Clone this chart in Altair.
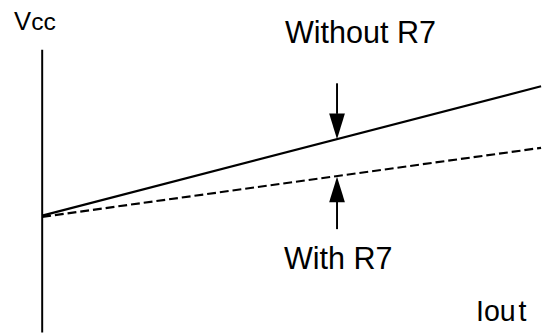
import altair as alt
import pandas as pd

# ---- data (current axis: arbitrary units, voltage axis: arbitrary units) ----
iout = [0.0, 10.0]
vcc_without_r7 = [4.75, 10.0]
vcc_with_r7 = [4.70, 7.50]

axis_bottom = 0.0
axis_top = 11.48

arrow_x = [5.91, 5.91]
stem_from = [10.12, 4.20]
stem_to = [8.88, 5.32]
arrow_tip = [7.85, 6.33]
arrow_dir = ["down", "up"]

label_text = ["Without R7", "With R7", "V", "cc", "I", "ou", "t"]
label_x = [4.865, 4.845, -0.567, -0.221, 8.697, 8.854, 9.546]
label_y = [11.76, 2.60, 12.28, 12.28, 0.48, 0.48, 0.48]
label_fs = [31, 31, 26, 25, 29, 29, 29]

# ---- scales ----
W, H = 546, 327
px_per_u = 50.63
px_per_v = 25.0
x0_px = 42.7 - 8
xs = alt.Scale(domain=[-x0_px / px_per_u, (W - x0_px) / px_per_u], nice=False, zero=False)
ys = alt.Scale(domain=[0, H / px_per_v], nice=False, zero=False)

lines = pd.DataFrame({
    "iout": iout * 2,
    "vcc": vcc_without_r7 + vcc_with_r7,
    "series": ["Without R7"] * 2 + ["With R7"] * 2,
})

axis_df = pd.DataFrame({"u": [0.0], "v1": [axis_bottom], "v2": [axis_top]})
stems = pd.DataFrame({"u": arrow_x, "v1": stem_from, "v2": stem_to})
down_path = "M0,0L-0.615,-2L0.615,-2Z"
up_path = "M0,0L-0.615,2L0.615,2Z"
heads = pd.DataFrame({
    "u": arrow_x,
    "v": arrow_tip,
    "shape": [down_path if d == "down" else up_path for d in arrow_dir],
})
labels = pd.DataFrame({"text": label_text, "u": label_x, "v": label_y, "fs": label_fs})

X = lambda f: alt.X(f, scale=xs, axis=None)
Y = lambda f: alt.Y(f, scale=ys, axis=None)

axis_rule = alt.Chart(axis_df).mark_rule(color="black", strokeWidth=2).encode(
    x=X("u:Q"), y=Y("v1:Q"), y2="v2:Q"
)

solid = alt.Chart(lines).transform_filter(alt.datum.series == "Without R7").mark_line(
    color="black", strokeWidth=2.2
).encode(x=X("iout:Q"), y=Y("vcc:Q"))

dashed = alt.Chart(lines).transform_filter(alt.datum.series == "With R7").mark_line(
    color="black", strokeWidth=2.2, strokeDash=[9, 4]
).encode(x=X("iout:Q"), y=Y("vcc:Q"))

stem_rules = alt.Chart(stems).mark_rule(color="black", strokeWidth=2).encode(
    x=X("u:Q"), y=Y("v1:Q"), y2="v2:Q"
)

head_marks = alt.Chart(heads).mark_point(
    filled=True, color="black", opacity=1, strokeWidth=0, size=676
).encode(x=X("u:Q"), y=Y("v:Q"), shape=alt.Shape("shape:N", scale=None))

text_marks = alt.Chart(labels).mark_text(
    align="left", baseline="alphabetic", color="black", font="Liberation Sans"
).encode(
    x=X("u:Q"), y=Y("v:Q"), text="text:N", size=alt.Size("fs:Q", scale=None)
)

chart = alt.layer(axis_rule, solid, dashed, stem_rules, head_marks, text_marks).properties(
    width=W, height=H, padding=0, autosize=alt.AutoSizeParams(type="none"), background="white"
).configure_view(stroke=None)

chart.save("out.html", embed_options={"renderer": "svg", "actions": False})
